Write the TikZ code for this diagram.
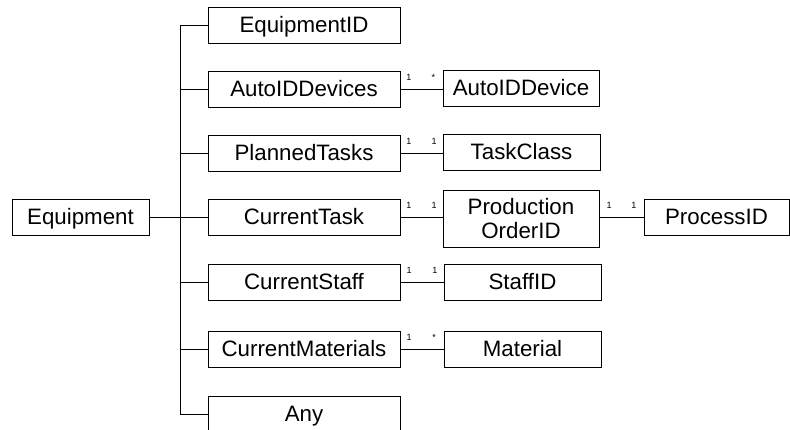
\documentclass[tikz,border=0pt]{standalone}
\usepackage{fontspec}
\setmainfont{Liberation Sans}
\begin{document}
\begin{tikzpicture}[x=1pt,y=-1pt,
  box/.style={draw=black, line width=0.8pt, minimum height=36pt, inner sep=0pt,
    font=\fontsize{22.3}{24}\selectfont},
  oneline/.style={box, text height=15pt, text depth=0.5pt},
  conn/.style={draw=black, line width=0.8pt},
  mult/.style={font=\fontsize{9}{10}\selectfont, anchor=south, inner sep=0pt, yshift=8pt}]
\useasboundingbox (0,0) rectangle (790,430);
\clip (0,0) rectangle (790,430);
% root
\node[oneline, minimum width=137pt] (eq) at (80.5,217) {Equipment};
% first column
\node[oneline, minimum width=192pt] (eid) at (304,25) {EquipmentID};
\node[oneline, minimum width=192pt] (aids) at (304,89) {AutoIDDevices};
\node[oneline, minimum width=192pt] (pt) at (304,153) {PlannedTasks};
\node[oneline, minimum width=192pt] (ct) at (304,217) {CurrentTask};
\node[oneline, minimum width=192pt] (cs) at (304,282) {CurrentStaff};
\node[oneline, minimum width=192pt] (cm) at (304,349) {CurrentMaterials};
\node[oneline, minimum width=192pt] (any) at (304,414) {Any};
% second column
\node[oneline, minimum width=156pt] (aid) at (521,88) {AutoIDDevice};
\node[oneline, minimum width=157pt] (tc) at (521.5,152) {TaskClass};
\node[box, minimum width=156pt, minimum height=57pt, align=center] (poid) at (521,218.5) {Production\\OrderID};
\node[oneline, minimum width=157pt] (sid) at (522.5,282) {StaffID};
\node[oneline, minimum width=157pt] (mat) at (522.5,349) {Material};
% third column
\node[oneline, minimum width=145pt] (pid) at (716.5,217) {ProcessID};
% bus
\coordinate (bus) at (180,217);
\draw[conn] (eid.west -| bus) -- (any.west -| bus);
\draw[conn] (eq.east) -- (eq.east -| bus);
\foreach \n in {eid,aids,pt,ct,cs,cm,any}
  \draw[conn] (\n.west -| bus) -- (\n.west);
% associations
\draw[conn] (aids.east) -- node[mult,pos=0.2]{1} node[mult,pos=0.78]{*} (aids.east -| aid.west);
\draw[conn] (pt.east) -- node[mult,pos=0.2]{1} node[mult,pos=0.8]{1} (pt.east -| tc.west);
\draw[conn] (ct.east) -- node[mult,pos=0.2]{1} node[mult,pos=0.8]{1} (ct.east -| poid.west);
\draw[conn] (poid.east |- pid.west) -- node[mult,pos=0.22]{1} node[mult,pos=0.78]{1} (pid.west);
\draw[conn] (cs.east) -- node[mult,pos=0.2]{1} node[mult,pos=0.8]{1} (cs.east -| sid.west);
\draw[conn] (cm.east) -- node[mult,pos=0.2]{1} node[mult,pos=0.78]{*} (cm.east -| mat.west);
\end{tikzpicture}
\end{document}
